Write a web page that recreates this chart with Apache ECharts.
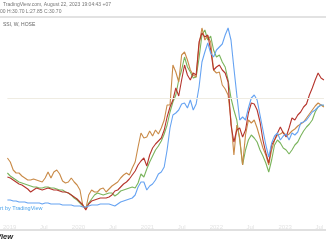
<!DOCTYPE html>
<html><head><meta charset="utf-8">
<script src="https://cdn.jsdelivr.net/npm/echarts@6/dist/echarts.min.js"></script>
<style>html,body{margin:0;padding:0;background:#fff;overflow:hidden}#c{width:326px;height:245px;}</style>
</head><body><div id="c"></div>
<script>
// sampling: roughly every 15.4 days from late Dec 2018 to late Jul 2023
const startDate = '2018-12-20';
const stepDays = 15.4;

const headerLine1 = 'TradingView.com, August 22, 2023 19:04:43 +07';
const headerLine2 = '00 H:30.70 L:27.85 C:30.70';
const symbolTitle = 'SSI, W, HOSE';
const watermark = 'rt by TradingView';
const footerLogo = 'TradingView';
const monthNames = ['Jan','Feb','Mar','Apr','May','Jun','Jul','Aug','Sep','Oct','Nov','Dec'];
const labelledMonths = [0, 6];
const referenceLevel = 121;

const blueValues = [
19,19,18,18,17,17,17,16,16,16,
16,16,15,16,16,15,15,15,15,14,
14,14,14,13,13,13,12,12,13,14,
14,14,15,15,15,15,14,13,15,17,
18,19,20,21,24,32,37,37,29,33,
35,39,45,47,52,69,91,104,106,109,
115,116,111,119,109,115,132,157,167,176,
166,162,169,172,175,184,191,179,151,124,
99,102,99,111,121,124,119,104,89,74,
62,76,83,86,79,83,85,79,86,84,
87,96,97,99,103,107,109,112,114,114];

const redValues = [
42,41,39,37,35,34,32,30,27,29,
31,30,29,30,31,30,29,29,28,27,
27,26,24,22,20,17,14,9,15,18,
19,20,21,21,21,22,24,28,29,32,
35,37,40,44,48,54,58,61,53,64,
71,75,78,81,89,102,112,119,131,123,
139,154,144,139,146,144,177,186,182,184,
169,149,152,154,149,146,137,94,77,89,
91,82,89,106,116,115,109,97,79,66,
56,74,79,86,92,86,82,91,101,99,
104,107,112,115,124,131,139,146,141,139];

const greenValues = [
46,43,41,39,37,36,35,34,33,32,
32,31,31,32,32,31,31,30,29,29,
27,26,24,21,19,16,13,11,16,20,
24,26,25,24,25,26,26,23,25,28,
29,30,31,32,31,36,45,42,50,57,
63,69,73,78,85,94,107,117,124,139,
149,162,152,147,141,142,161,184,189,179,
183,169,162,164,157,152,139,121,109,99,
79,54,69,79,84,81,77,69,63,56,
47,59,74,79,76,71,69,65,69,74,
77,83,88,92,95,99,107,112,114,113];

const orangeValues = [
61,57,49,46,46,43,41,39,39,40,
39,38,37,41,47,41,47,49,45,38,
36,37,41,37,34,29,13,10,24,29,
27,27,30,31,27,30,33,35,37,41,
44,46,44,51,57,72,86,81,82,88,
83,89,85,91,99,114,114,154,147,137,
164,167,159,149,144,142,174,191,179,183,
177,149,146,147,134,130,124,99,64,94,
81,54,84,99,96,99,91,81,71,64,
54,69,79,84,85,87,83,85,88,90,
93,95,97,101,105,109,113,116,114,112];

const DAY = 86400000;
const t0 = new Date(startDate + 'T00:00:00Z').getTime();
const dates = blueValues.map((_, i) => t0 + i * stepDays * DAY);
const pair = arr => arr.map((v, i) => [dates[i], v]);

const chart = echarts.init(document.getElementById('c'), null, {renderer: 'canvas'});
const lineSeries = (name, color, values, extra) => Object.assign({
  name, type: 'line', data: pair(values), showSymbol: false, symbol: 'none',
  lineStyle: {color, width: 1.1}, itemStyle: {color}, animation: false, silent: true
}, extra || {});

chart.setOption({
  animation: false,
  backgroundColor: '#ffffff',
  grid: {left: 0, right: 0, top: 0, bottom: 26, containLabel: false},
  xAxis: {
    type: 'time', min: dates[0], max: dates[dates.length - 1],
    splitNumber: 10,
    axisLine: {show: false}, axisTick: {show: false}, splitLine: {show: false},
    axisLabel: {
      color: '#e3e3e3', fontSize: 6, margin: 5, fontFamily: 'Liberation Sans', hideOverlap: false,
      formatter: function (v) {
        const d = new Date(v); const m = d.getUTCMonth();
        if (d.getUTCDate() !== 1 || labelledMonths.indexOf(m) < 0) return '';
        return m === 0 ? String(d.getUTCFullYear()) : monthNames[m];
      }
    }
  },
  yAxis: {type: 'value', min: 0, max: 219, show: false, splitLine: {show: false}},
  series: [
    lineSeries('Green', '#7ab45c', greenValues, {
      markLine: {silent: true, symbol: 'none', label: {show: false},
        lineStyle: {color: '#efece2', width: 1, type: 'solid'},
        data: [{yAxis: referenceLevel}]}
    }),
    lineSeries('Orange', '#c98a47', orangeValues),
    lineSeries('Red', '#b5352d', redValues),
    lineSeries('Blue', '#66a3f2', blueValues)
  ],
  graphic: [
    {type: 'text', left: 3, top: 2, style: {text: headerLine1, fontSize: 5, fill: '#777', fontFamily: 'Liberation Sans'}},
    {type: 'text', left: 0, top: 9, style: {text: headerLine2, fontSize: 5, fill: '#777', fontFamily: 'Liberation Sans'}},
    {type: 'rect', left: 0, top: 16, shape: {width: 326, height: 2}, style: {fill: '#e2e2e2'}},
    {type: 'text', left: 3, top: 22, style: {text: symbolTitle, fontSize: 5, fill: '#666', fontFamily: 'Liberation Sans'}},
    {type: 'text', left: 0, top: 205, style: {text: watermark, fontSize: 5.5, fill: '#4da3ea', fontFamily: 'Liberation Sans'}},
    {type: 'rect', left: 0, top: 229, shape: {width: 326, height: 2}, style: {fill: '#e0e0e0'}},
    {type: 'text', x: 13, y: 233, style: {text: footerLogo, fontSize: 7.5, fontWeight: 'bold', fontStyle: 'italic', fill: '#222', align: 'right', verticalAlign: 'top', fontFamily: 'Liberation Sans'}}
  ]
});
</script></body></html>
